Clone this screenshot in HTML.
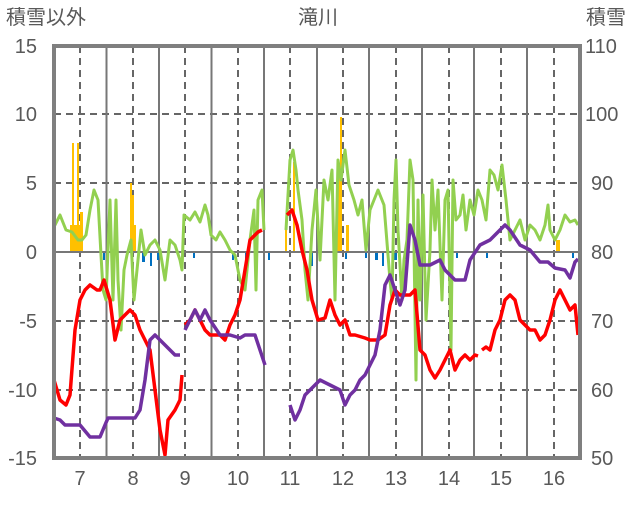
<!DOCTYPE html><html><head><meta charset="utf-8"><style>body{margin:0;background:#fff}svg text{font-family:"Liberation Sans","Noto Sans CJK JP",sans-serif;fill:#595959;font-size:20px}</style></head><body>
<svg width="636" height="501" xmlns="http://www.w3.org/2000/svg">
<text x="6" y="24">積雪以外</text><text x="318" y="24" text-anchor="middle">滝川</text><text x="586" y="24">積雪</text>
<g text-anchor="end"><text x="37" y="53">15</text><text x="37" y="121">10</text><text x="37" y="190">5</text><text x="37" y="259">0</text><text x="37" y="328">-5</text><text x="37" y="397">-10</text><text x="37" y="465">-15</text></g>
<g><text x="585" y="53">110</text><text x="585" y="121">100</text><text x="591" y="190">90</text><text x="591" y="259">80</text><text x="591" y="328">70</text><text x="591" y="397">60</text><text x="591" y="465">50</text></g>
<g text-anchor="middle"><text x="80" y="485">7</text><text x="133" y="485">8</text><text x="185" y="485">9</text><text x="238" y="485">10</text><text x="290" y="485">11</text><text x="343" y="485">12</text><text x="396" y="485">13</text><text x="449" y="485">14</text><text x="501" y="485">15</text><text x="554" y="485">16</text></g>
<g stroke="#666" stroke-width="2" stroke-dasharray="7,5"><line x1="54" x2="580" y1="114" y2="114"/><line x1="54" x2="580" y1="183" y2="183"/><line x1="54" x2="580" y1="321" y2="321"/><line x1="54" x2="580" y1="390" y2="390"/>
<path d="M80 46V458M133 46V458M185 46V458M238 46V458M290 46V458M343 46V458M396 46V458M449 46V458M501 46V458M554 46V458"/></g>
<g stroke="#777" stroke-width="2"><path d="M106.5 46V458M159 46V458M211.5 46V458M264 46V458M317 46V458M369 46V458M422 46V458M474 46V458M527 46V458"/></g>
<g fill="#ffc000"><rect x="72" y="143" width="2" height="109"/><rect x="77" y="143" width="2" height="109"/><rect x="70" y="225" width="10" height="27"/><rect x="80" y="212" width="3" height="40"/><rect x="130" y="183" width="2" height="69"/><rect x="132" y="195" width="2" height="57"/><rect x="134" y="225" width="2" height="27"/><rect x="285" y="225" width="2" height="27"/><rect x="293" y="162" width="2" height="90"/><rect x="337" y="170" width="4" height="82"/><rect x="340" y="117" width="2" height="135"/><rect x="346" y="225" width="3" height="27"/><rect x="556" y="240" width="4" height="12"/></g>
<g fill="#0070c0"><path d="M103 252h2v8h-2zM142 252h3v10h-3zM150 252h2v14h-2zM157 252h2v8h-2zM193 252h2v6h-2zM232 252h2v8h-2zM245 252h3v7h-3zM255 252h2v6h-2zM268 252h2v8h-2zM310 252h3v14h-3zM345 252h2v7h-2zM365 252h2v6h-2zM375 252h3v8h-3zM382 252h2v14h-2zM393 252h4v8h-4zM405 252h2v7h-2zM420 252h2v6h-2zM440 252h2v6h-2zM456 252h2v6h-2zM486 252h2v6h-2zM572 252h2v6h-2z"/></g>
<line x1="54" x2="580" y1="252" y2="252" stroke="#777" stroke-width="2"/>
<g fill="none" stroke-width="3" stroke-linejoin="round">
<polyline stroke="#92d050" points="54,227 60,215 66,230 72,232 78,240 82,240 86,235 90,210 94,190 98,200 101,255 103,290 106,300 110,200 113,300 116,200 118,280 121,330 124,270 127,255 131,240 134,300 137,270 141,230 145,255 150,245 155,240 160,250 165,280 170,240 175,245 180,260 182,270 184,215 190,220 195,212 200,222 205,205 208,215 211,235 216,240 220,232 225,240 230,250 235,255 240,280 245,290 250,240 254,210 256,290 258,200 262,190 264,230"/>
<polyline stroke="#92d050" points="286,230 290,160 293,150 296,170 298,190 302,220 305,270 308,300 312,230 316,190 320,260 324,180 328,200 332,170 335,300 338,160 341,180 345,150 349,185 354,200 358,215 362,200 366,250 370,210 374,200 378,190 384,205 388,255 390,280 392,300 394,200 396,160 398,230 402,300 404,260 407,240 410,160 413,180 416,380 418,200 420,300 423,195 426,320 430,250 432,180 435,230 438,190 442,300 445,200 448,190 451,350 453,180 456,220 460,215 463,195 466,230 470,200 474,215 478,190 482,200 486,220 490,170 494,175 498,190 502,165 506,200 510,240 515,230 520,220 525,240 530,225 535,230 540,240 545,225 548,205 550,230 555,240 560,230 565,215 570,222 575,220 578,225"/>
<polyline stroke="#f00" stroke-width="3.5" points="54,380 60,400 66,405 70,395 75,330 80,300 85,290 90,285 97,290 100,290 104,280 110,300 115,340 120,320 125,315 130,310 135,315 140,330 150,350 155,390 160,430 165,455 168,420 175,410 180,400 182,375"/>
<polyline stroke="#f00" stroke-width="3.5" points="185,325 190,320 195,310 200,320 205,330 210,335 220,335 225,340 230,325 235,315 240,300 250,240 258,232 262,230"/>
<polyline stroke="#f00" stroke-width="3.5" points="287,215 292,210 297,225 302,250 307,270 312,300 318,320 325,318 330,300 335,315 340,325 345,320 350,335 355,335 365,338 370,340 378,340 385,335 390,305 395,290 400,295 405,295 410,295 415,290 420,350 425,355 430,370 435,378 440,370 445,360 450,350 455,370 460,360 465,355 470,360 475,355 478,356"/>
<polyline stroke="#f00" stroke-width="3.5" points="482,350 486,347 490,350 495,330 500,320 505,300 510,295 515,300 520,320 525,325 530,330 535,330 540,340 545,335 550,320 555,300 560,290 565,300 570,310 575,305 578,335"/>
<polyline stroke="#7030a0" stroke-width="3.5" points="54,418 60,420 65,425 80,425 90,437 100,437 105,425 108,418 120,418 135,418 140,410 145,380 150,340 155,335 160,340 165,345 170,350 175,355 180,355"/>
<polyline stroke="#7030a0" stroke-width="3.5" points="185,330 195,310 200,320 205,310 210,320 220,335 230,335 240,338 245,335 255,335 260,350 265,365"/>
<polyline stroke="#7030a0" stroke-width="3.5" points="290,405 295,420 300,410 305,395 310,390 315,385 320,380 330,385 340,390 345,405 350,395 355,390 360,380 365,375 370,365 375,355 380,330 385,285 390,275 395,290 400,305 405,290 410,225 415,240 420,265 430,265 440,260 445,270 455,280 465,280 470,260 480,245 490,240 495,235 505,225 510,230 520,245 530,250 540,262 548,262 555,268 565,270 570,278 575,262 578,259"/>
</g>
<rect x="54" y="46" width="526" height="412" fill="none" stroke="#7f7f7f" stroke-width="4"/>
</svg></body></html>
